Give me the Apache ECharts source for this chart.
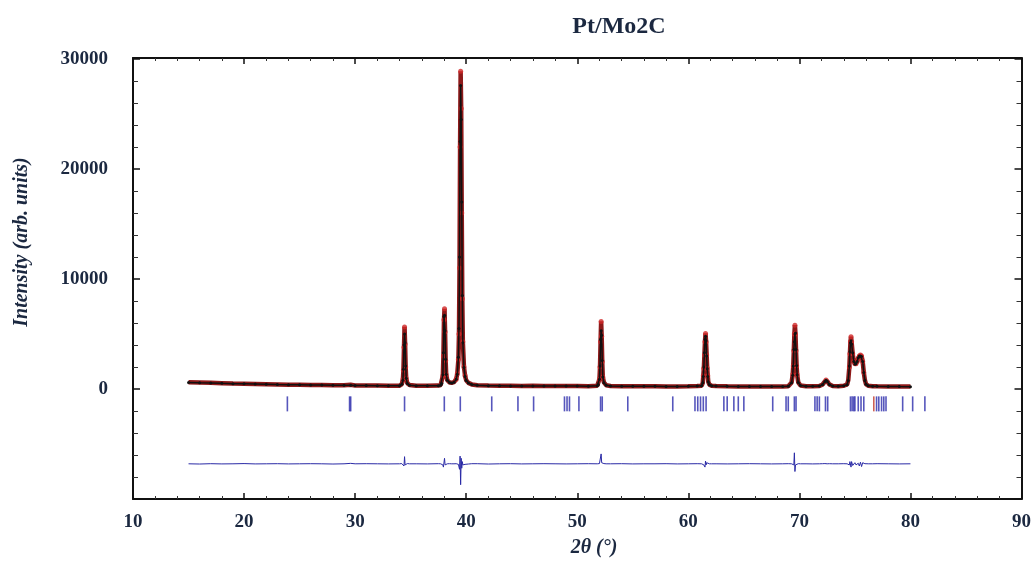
<!DOCTYPE html>
<html>
<head>
<meta charset="utf-8">
<title>Pt/Mo2C</title>
<script src="https://cdn.jsdelivr.net/npm/echarts@6/dist/echarts.min.js"></script>
<style>
  html, body { margin: 0; padding: 0; background: #fff; }
  #chart { width: 1034px; height: 561px; }
</style>
</head>
<body>
<div id="chart"></div>
<script>
const twoTheta = [
  15, 16, 17, 18, 19, 20, 21, 22, 23, 24, 25, 26, 27, 28, 29, 29.6, 30, 31, 32, 33, 34,
  34.2, 34.3, 34.35, 34.4, 34.45, 34.5, 34.55, 34.6, 34.7, 34.9,
  35.5, 36.5, 37.5,
  37.7, 37.8, 37.9, 37.95, 38.0, 38.05, 38.1, 38.15, 38.2, 38.3, 38.5, 38.7,
  38.9, 39.1, 39.2, 39.3, 39.35, 39.4, 39.45, 39.5, 39.55, 39.6, 39.65, 39.7, 39.8, 39.9, 40.0, 40.2, 40.5,
  41, 42, 43, 44, 45, 46, 47, 48, 49, 50, 51, 51.8,
  51.9, 52.0, 52.05, 52.1, 52.15, 52.2, 52.25, 52.3, 52.4, 52.6,
  53, 54, 55, 56, 57, 58, 59, 60, 60.8,
  61.2, 61.3, 61.35, 61.4, 61.45, 61.5, 61.55, 61.6, 61.65, 61.7, 61.75, 61.8, 61.9, 62.1,
  62.5, 63.5, 64.5, 65.5, 66.5, 67.5, 68.5, 69.0,
  69.3, 69.4, 69.45, 69.5, 69.55, 69.6, 69.65, 69.7, 69.75, 69.8, 69.9, 70.1,
  70.6, 71.2, 71.8, 72.1, 72.3, 72.4, 72.5, 72.7, 73.0, 73.5, 74.0, 74.3,
  74.4, 74.5, 74.55, 74.6, 74.65, 74.7, 74.8, 74.9, 75.0, 75.1, 75.2, 75.3, 75.4, 75.5, 75.6, 75.7, 75.8, 75.9, 76.0, 76.2,
  76.6, 77, 78, 79, 80
]
const yObs = [
  620, 590, 560, 530, 500, 480, 460, 440, 420, 400, 390, 370, 360, 350, 340, 380, 330, 320, 310, 300, 300,
  450, 850, 1700, 3800, 5650, 4100, 2000, 950, 520, 360,
  300, 290, 310,
  360, 520, 1200, 3000, 6300, 7300, 5200, 2600, 1300, 800, 600, 560,
  620, 900, 1400, 2700, 5000, 11000, 22000, 28900, 25500, 16000, 8200, 4300, 2000, 1200, 800, 560, 420,
  350, 310, 300, 290, 280, 290, 280, 270, 270, 270, 260, 300,
  400, 900, 2000, 4300, 6150, 4800, 2500, 1100, 600, 350,
  280, 260, 260, 250, 250, 240, 240, 250, 270,
  300, 550, 1200, 1900, 3100, 4300, 5050, 4300, 3100, 1900, 1200, 650, 400, 300,
  270, 250, 240, 240, 230, 240, 240, 260,
  600, 1300, 2100, 3500, 5000, 5800, 5000, 3500, 2100, 1300, 600, 320,
  260, 250, 270, 420, 700, 820, 720, 420, 280, 260, 300, 420,
  800, 2000, 3200, 4300, 4750, 4300, 3200, 2500, 2300, 2300, 2500, 2800, 3000, 3100, 3000, 2500, 1500, 800, 450, 300,
  260, 250, 230, 220, 220
]
const yCalc = [
  600, 570, 545, 515, 490, 470, 450, 430, 410, 395, 380, 365, 355, 345, 335, 350, 325, 315, 305, 300, 300,
  430, 800, 1800, 4000, 5000, 4200, 2100, 980, 500, 350,
  295, 290, 300,
  350, 500, 1300, 3300, 6600, 6700, 5300, 2700, 1350, 800, 590, 550,
  610, 880, 1350, 2900, 5500, 12000, 22500, 27600, 24500, 17000, 8500, 4200, 1950, 1150, 780, 550, 410,
  340, 305, 295, 285, 280, 285, 275, 270, 265, 265, 260, 290,
  390, 880, 2100, 4500, 5300, 4900, 2600, 1100, 580, 340,
  275, 258, 255, 250, 248, 240, 238, 245, 265,
  300, 560, 1150, 2000, 3300, 4500, 4800, 4400, 3000, 1850, 1150, 640, 390, 295,
  265, 248, 240, 238, 230, 235, 238, 255,
  580, 1250, 2100, 3600, 4300, 5000, 5100, 3600, 2150, 1300, 590, 315,
  255, 248, 265, 410, 690, 800, 710, 410, 275, 255, 290, 400,
  780, 2100, 3400, 4200, 4400, 4100, 3300, 2500, 2250, 2300, 2500, 2850, 3000, 3000, 2950, 2500, 1500, 780, 440, 295,
  255, 245, 228, 220, 218
]
const yDiff = [
  -6800, -6820, -6790, -6810, -6800, -6780, -6810, -6800, -6790, -6810, -6800, -6790, -6800, -6820, -6800, -6760, -6800, -6790, -6800, -6810, -6800,
  -6780, -6750, -6900, -7000, -6150, -6900, -6900, -6830, -6780, -6800,
  -6800, -6810, -6790,
  -6800, -6780, -6900, -7100, -7200, -6300, -6900, -6900, -6850, -6800, -6790, -6800,
  -6800, -6790, -6810, -6850, -6700, -7300, -6100, -8700, -6300, -7200, -6600, -6900, -6750, -6850, -6800, -6820, -6790,
  -6790, -6820, -6800, -6790, -6810, -6800, -6790, -6800, -6810, -6800, -6790, -6800,
  -6800, -6780, -6850, -6900, -5900, -6700, -6850, -6800, -6780, -6800,
  -6800, -6790, -6810, -6800, -6800, -6790, -6810, -6800, -6790,
  -6800, -6790, -6750, -6900, -7050, -7100, -6550, -6900, -6700, -6750, -6800, -6790, -6800, -6800,
  -6800, -6810, -6800, -6790, -6800, -6810, -6800, -6790,
  -6800, -6750, -6800, -6900, -5800, -7500, -6900, -7000, -6850, -6800, -6790, -6800,
  -6800, -6810, -6800, -6790, -6780, -6810, -6800, -6790, -6800, -6800, -6790, -6800,
  -6750, -6900, -6600, -6500, -7100, -6600, -6950, -6850, -6700, -6900, -6800, -6750, -7000, -6650, -7050, -6700, -6800, -6790, -6800, -6800,
  -6800, -6790, -6800, -6810, -6800
]

// Bragg reflection positions (deg)
const braggPhase1 = [
  23.9, 29.5, 29.6, 34.45, 38.03, 39.47, 42.3, 44.66, 46.07, 48.85, 49.08, 49.3, 50.15,
  52.1, 52.25, 54.55, 58.6, 60.6, 60.85, 61.1, 61.35, 61.6, 63.2, 63.5, 64.1, 64.5, 65.0,
  67.6, 68.8, 69.0, 69.55, 69.7, 71.4, 71.6, 71.8, 72.35, 72.55, 74.6, 74.75, 74.9, 75.0,
  75.3, 75.55, 75.8, 76.95, 77.15, 77.4, 77.6, 77.8, 79.3, 80.2, 81.3
]
const braggPhase2 = [76.7]

const xTicks = [10, 90, 10]          // min, max, step
const yTicks = [-10000, 30100, 10000]

const BRAGG_Y = -1350
const INK = '#1b2840'
const SERIF = '"Liberation Serif", "DejaVu Serif", serif'

const obsPts = twoTheta.map((t, i) => [t, yObs[i]])
const calcPts = twoTheta.map((t, i) => [t, yCalc[i]])
const diffPts = twoTheta.map((t, i) => [t, yDiff[i]])

const chart = echarts.init(document.getElementById('chart'), null, { renderer: 'canvas' })

function xAxis(position, labels) {
  return {
    type: 'value',
    position,
    min: xTicks[0],
    max: xTicks[1],
    interval: xTicks[2],
    axisLine: { show: true, onZero: false, lineStyle: { color: '#111', width: 2 } },
    axisTick: { show: true, inside: true, length: 6, lineStyle: { color: '#111', width: 1.5 } },
    minorTick: { show: true, splitNumber: 5, length: 3, lineStyle: { color: '#333', width: 1 } },
    splitLine: { show: false },
    axisLabel: {
      show: labels,
      margin: 14,
      color: INK,
      fontFamily: SERIF,
      fontWeight: 'bold',
      fontSize: 19
    }
  }
}

function yAxis(position, labels) {
  return {
    type: 'value',
    position,
    min: yTicks[0],
    max: yTicks[1],
    interval: yTicks[2],
    axisLine: { show: true, onZero: false, lineStyle: { color: '#111', width: 2 } },
    axisTick: { show: true, inside: true, length: 7, lineStyle: { color: '#111', width: 1.5 } },
    minorTick: { show: true, splitNumber: 5, length: 5, lineStyle: { color: '#333', width: 1 } },
    splitLine: { show: false },
    axisLabel: {
      show: labels,
      margin: 25,
      showMinLabel: false,
      showMaxLabel: false,
      color: INK,
      fontFamily: SERIF,
      fontWeight: 'bold',
      fontSize: 19,
      formatter: v => (v % 10000 === 0 && v >= 0 ? String(v) : '')
    }
  }
}

chart.setOption({
  animation: false,
  backgroundColor: '#ffffff',
  title: {
    text: 'Pt/Mo2C',
    left: 614,
    top: 10,
    textAlign: 'center',
    textStyle: { color: INK, fontFamily: SERIF, fontWeight: 'bold', fontSize: 24 }
  },
  grid: { left: 133, right: 8, top: 58, bottom: 62 },
  xAxis: [xAxis('bottom', true), xAxis('top', false)],
  yAxis: [yAxis('left', true), yAxis('right', false)],
  graphic: [
    {
      type: 'text',
      x: 22,
      y: 242,
      rotation: Math.PI / 2,
      style: {
        text: 'Intensity (arb. units)',
        font: 'italic bold 20px ' + SERIF,
        fill: INK,
        align: 'center',
        verticalAlign: 'middle'
      }
    },
    {
      type: 'text',
      x: 594,
      y: 548,
      style: {
        text: '2θ (°)',
        font: 'italic bold 20px ' + SERIF,
        fill: INK,
        align: 'center',
        verticalAlign: 'middle'
      }
    }
  ],
  series: [
    {
      name: 'Yobs band',
      type: 'line',
      data: obsPts,
      showSymbol: false,
      lineStyle: { color: '#8e1a1a', width: 4.5 },
      z: 2
    },
    {
      name: 'Yobs',
      type: 'scatter',
      data: obsPts.filter(p => p[1] > 800),
      symbol: 'circle',
      symbolSize: 5,
      itemStyle: { color: '#d02828' },
      z: 3
    },
    {
      name: 'Ycalc',
      type: 'line',
      data: calcPts,
      showSymbol: true,
      symbol: 'circle',
      symbolSize: 3,
      itemStyle: { color: '#111' },
      lineStyle: { color: '#111', width: 1.5 },
      z: 4
    },
    {
      name: 'Yobs-Ycalc',
      type: 'line',
      data: diffPts,
      showSymbol: false,
      lineStyle: { color: '#2a2aa6', width: 1 },
      z: 4
    },
    {
      name: 'Bragg',
      type: 'scatter',
      data: braggPhase1.map(t => [t, BRAGG_Y]),
      symbol: 'rect',
      symbolSize: [1.6, 15],
      itemStyle: { color: '#2c2cab' },
      z: 4
    },
    {
      name: 'Bragg 2',
      type: 'scatter',
      data: braggPhase2.map(t => [t, BRAGG_Y]),
      symbol: 'rect',
      symbolSize: [1.6, 15],
      itemStyle: { color: '#c0392b' },
      z: 4
    }
  ]
})
</script>
</body>
</html>
